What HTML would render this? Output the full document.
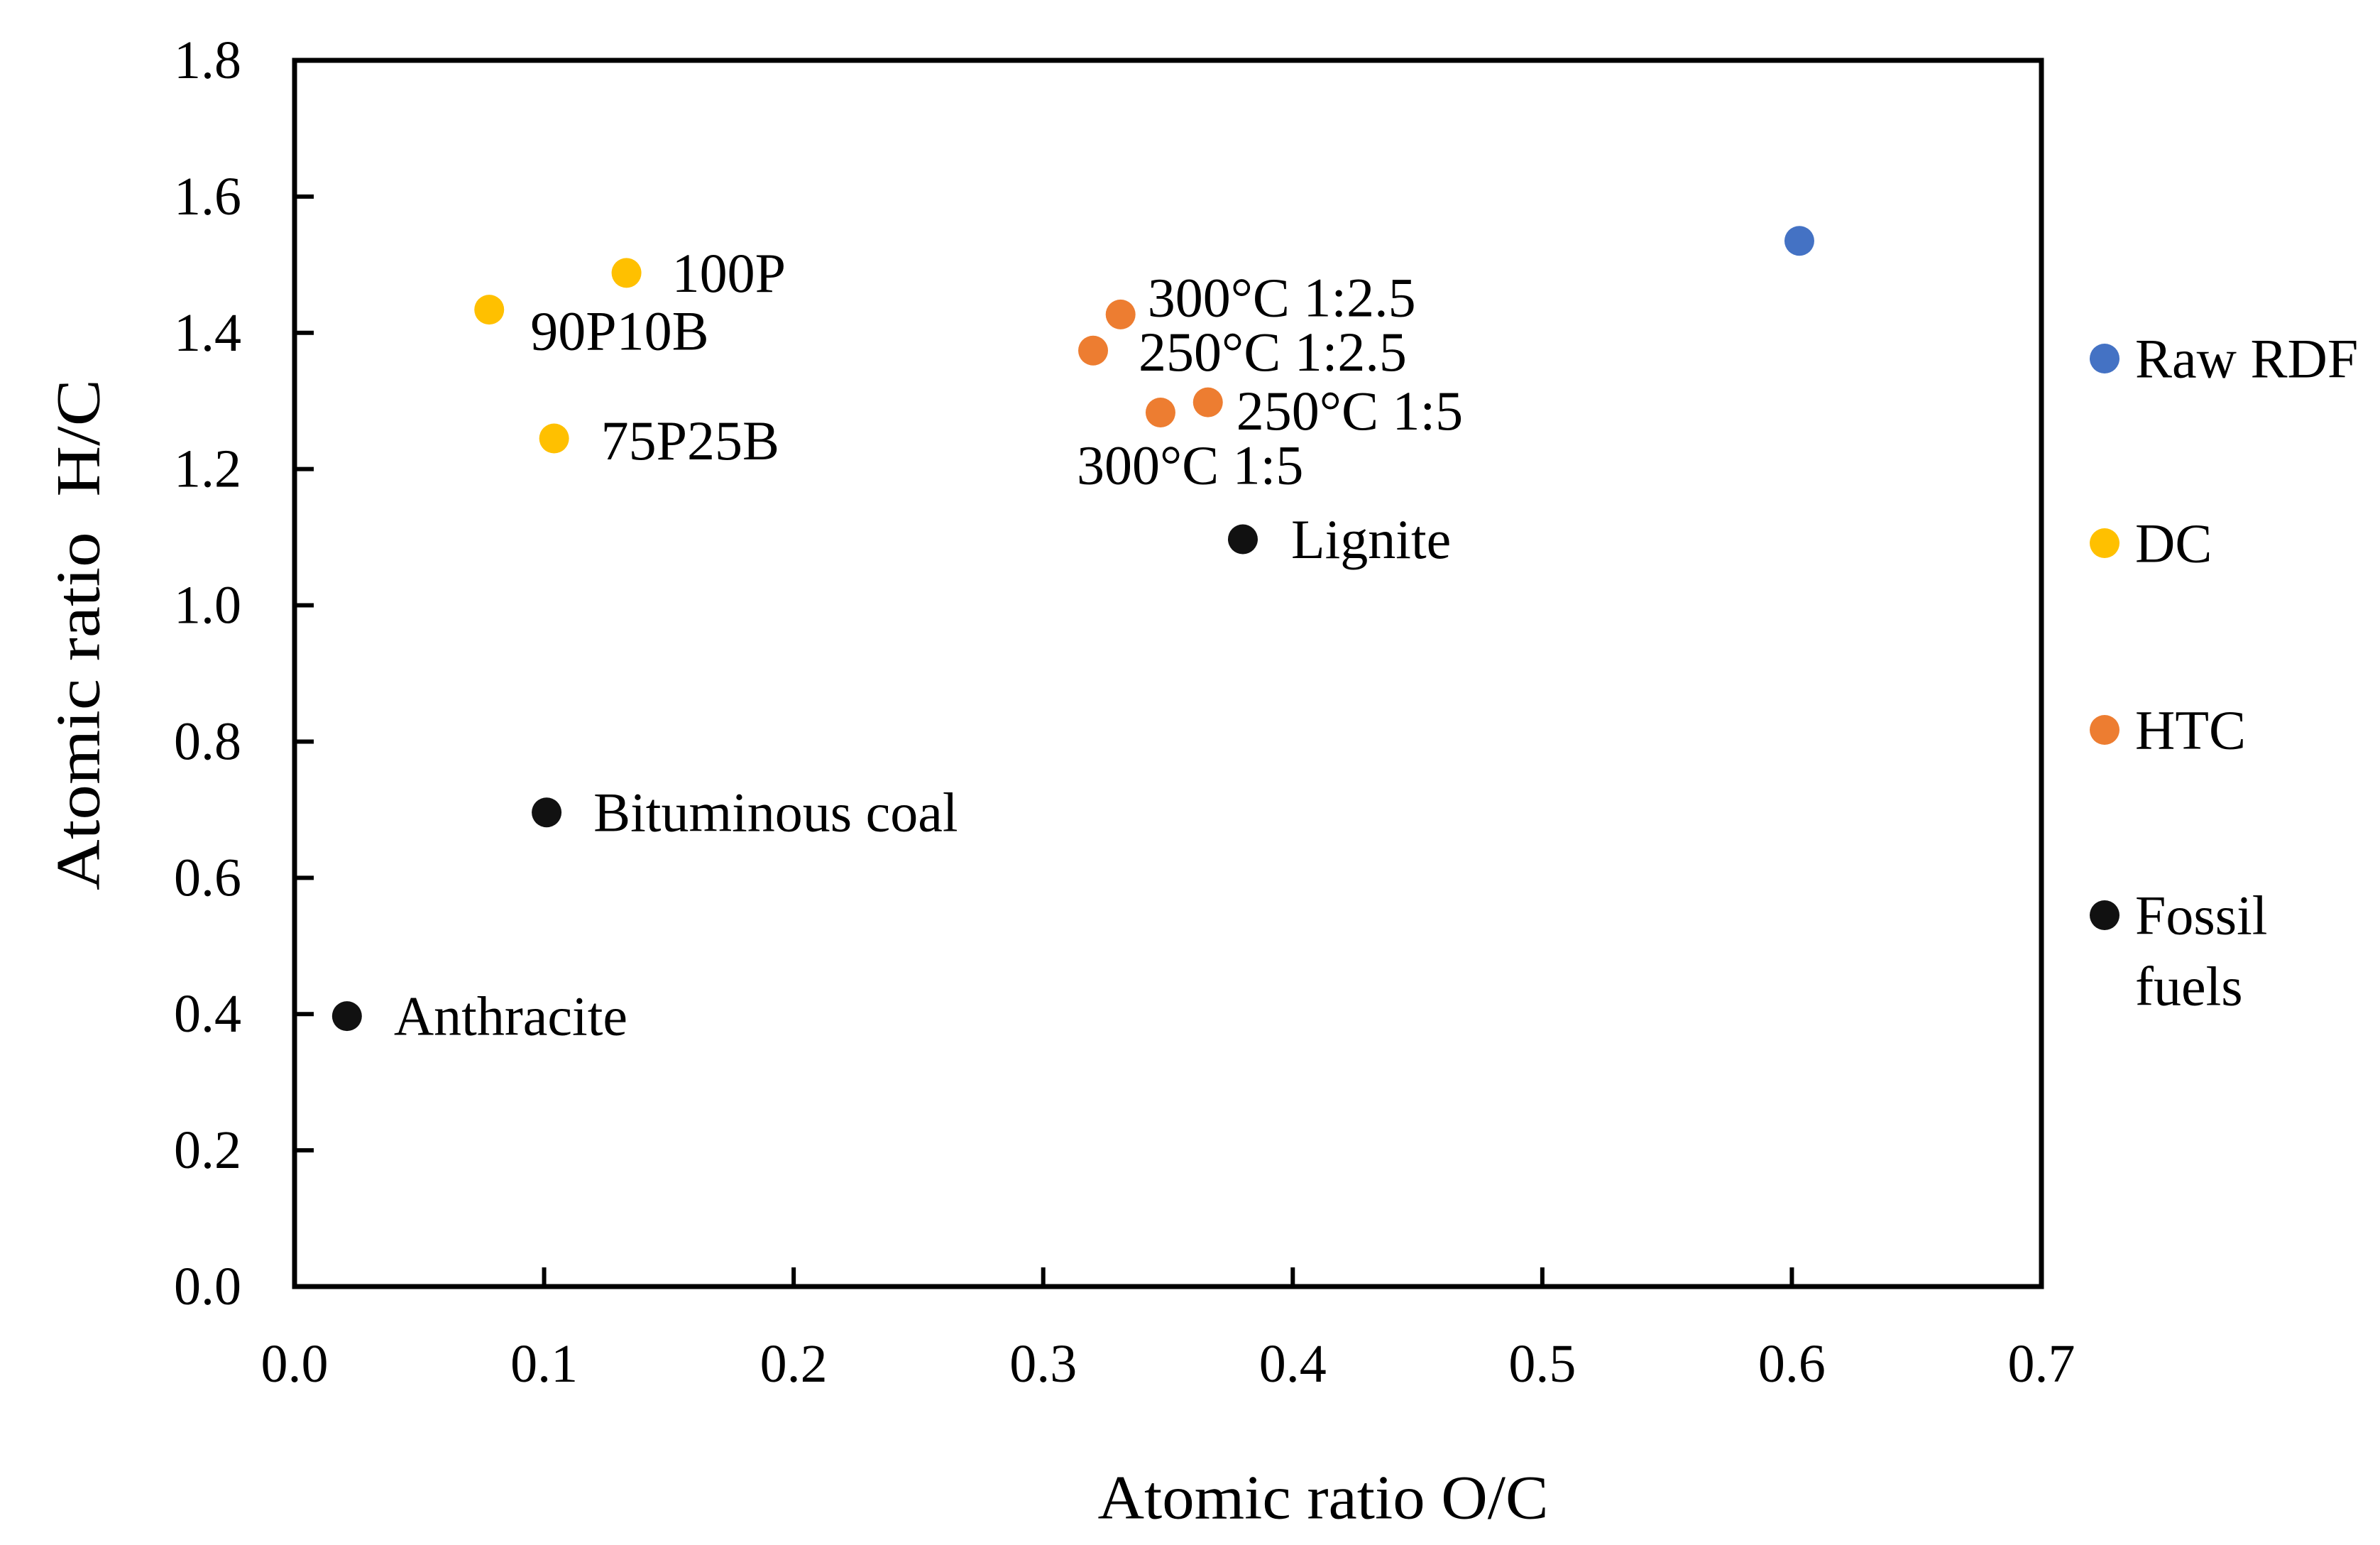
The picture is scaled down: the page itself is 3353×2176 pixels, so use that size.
<!DOCTYPE html>
<html><head><meta charset="utf-8"><style>
html,body{margin:0;padding:0;background:#fff;}
svg{display:block;font-family:"Liberation Serif",serif;}
</style></head><body>
<svg id="chart" width="3353" height="2176" viewBox="0 0 3353 2176" xmlns="http://www.w3.org/2000/svg">
<g id="axes"></g>
<g id="points"></g>
<g id="legend"></g>
<text x="1864" y="2110" font-size="88" text-anchor="middle" dominant-baseline="central" textLength="635" lengthAdjust="spacingAndGlyphs">Atomic ratio O/C</text>
<text x="111" y="894" font-size="88" text-anchor="middle" dominant-baseline="central" transform="rotate(-90 111 894)" xml:space="preserve" textLength="720" lengthAdjust="spacingAndGlyphs">Atomic ratio  H/C</text>
</svg>
<script>
const xTicks = [0,0.1,0.2,0.3,0.4,0.5,0.6,0.7];
const xTickLabels = ["0.0","0.1","0.2","0.3","0.4","0.5","0.6","0.7"];
const yTicks = [0,0.2,0.4,0.6,0.8,1.0,1.2,1.4,1.6,1.8];
const yTickLabels = ["0.0","0.2","0.4","0.6","0.8","1.0","1.2","1.4","1.6","1.8"];
const pointLabels = ["Raw RDF","100P","90P10B","75P25B","300°C 1:2.5","250°C 1:2.5","250°C 1:5","300°C 1:5","Lignite","Bituminous coal","Anthracite"];
const pointGroups = ["raw","dc","dc","dc","htc","htc","htc","htc","fossil","fossil","fossil"];
const xValues = [0.603,0.133,0.078,0.104,0.331,0.320,0.366,0.347,0.380,0.101,0.021];
const yValues = [1.535,1.488,1.434,1.245,1.427,1.374,1.298,1.283,1.097,0.696,0.397];
const legendLabels = [["Raw RDF"],["DC"],["HTC"],["Fossil","fuels"]];
const legendGroups = ["raw","dc","htc","fossil"];

const colors = {raw:"#4472C4", dc:"#FFC000", htc:"#ED7D31", fossil:"#111111"};
const labelDx = [null,64,58,66,38,64,40,-118,68,66,66];
const labelDy = [0,0,30,3,-24,2,12,74,0,0,0];
const X0=415, X1=2876, Y0=1812, Y1=85;
const xs = v => X0 + (v-0)/(0.7-0)*(X1-X0);
const ys = v => Y0 - (v-0)/(1.8-0)*(Y0-Y1);
const NS="http://www.w3.org/2000/svg";
function mk(tag, attrs, parent){const e=document.createElementNS(NS,tag);for(const k in attrs)e.setAttribute(k,attrs[k]);parent.appendChild(e);return e;}
const axes=document.getElementById('axes');
const frame=mk('rect',{x:X0,y:Y1,width:X1-X0,height:Y0-Y1,fill:'none',stroke:'#000','stroke-width':7},axes);


xTicks.forEach((t,i)=>{
  const x=xs(t);
  if(i>0&&i<xTicks.length-1){const l=mk('line',{x1:x,x2:x,y1:Y0,y2:Y0-27,stroke:'#000','stroke-width':6},axes);
  
  }
  const tx=mk('text',{x:x,y:1921,'font-size':76,'text-anchor':'middle','dominant-baseline':'central'},axes);
  
  
  tx.textContent=xTickLabels[i];
});
yTicks.forEach((t,i)=>{
  const y=ys(t);
  if(i>0&&i<yTicks.length-1){const l=mk('line',{x1:X0,x2:X0+27,y1:y,y2:y,stroke:'#000','stroke-width':6},axes);
  
  }
  const tx=mk('text',{x:340,y:y,'font-size':76,'text-anchor':'end','dominant-baseline':'central'},axes);
  
  
  tx.textContent=yTickLabels[i];
});
const pts=document.getElementById('points');
xValues.forEach((v,i)=>{
  const cx=xs(v), cy=ys(yValues[i]);
  const c=mk('circle',{cx:cx,cy:cy,r:21,fill:colors[pointGroups[i]]},pts);
  
  
  if(labelDx[i]!==null){
    const tx=mk('text',{x:cx+labelDx[i],y:cy+labelDy[i],'font-size':78,'dominant-baseline':'central'},pts);
    
    
    tx.textContent=pointLabels[i];
  }
});
const leg=document.getElementById('legend');
const legY=[505,765,1028,1289];
legendGroups.forEach((g,i)=>{
  const c=mk('circle',{cx:2965,cy:legY[i],r:21,fill:colors[g]},leg);
  
  
  legendLabels[i].forEach((ln,j)=>{
    const tx=mk('text',{x:3008,y:legY[i]+j*100,'font-size':78,'dominant-baseline':'central'},leg);
    
    
    tx.textContent=ln;
  });
});
</script>
</body></html>
